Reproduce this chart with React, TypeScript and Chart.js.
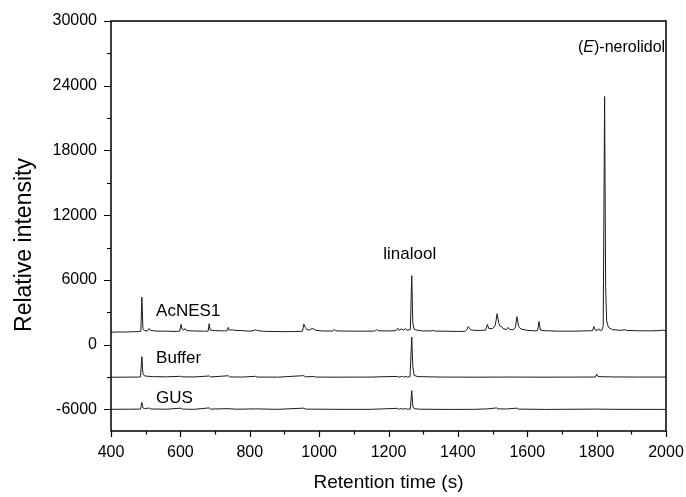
import React, { useEffect, useRef } from "react";
import { Chart, registerables } from "chart.js";

Chart.register(...registerables);

// Retention time (s) and relative intensity for each sample trace.
const acnes1Rt = [
  400, 420, 440, 460, 480, 486, 489, 492, 496, 505, 510, 514, 530, 560, 590, 598, 602, 605, 610, 614,
  618, 640, 670, 680, 683, 686, 700, 730, 735, 738, 741, 750, 760, 780, 800, 812, 817, 822, 840, 870,
  900, 930, 952, 956, 960, 964, 972, 980, 985, 990, 1010, 1040, 1044, 1048, 1080, 1120, 1160, 1166, 1170, 1200,
  1222, 1227, 1231, 1238, 1242, 1249, 1253, 1263, 1267, 1270, 1274, 1285, 1300, 1325, 1329, 1333, 1360, 1380, 1400, 1420,
  1425, 1430, 1436, 1445, 1465, 1480, 1485, 1489, 1500, 1508, 1513, 1518, 1522, 1526, 1530, 1540, 1545, 1550, 1560, 1566,
  1570, 1575, 1582, 1600, 1620, 1630, 1634, 1638, 1650, 1680, 1720, 1760, 1788, 1792, 1796, 1802, 1806, 1809, 1815, 1819,
  1823, 1826, 1829, 1834, 1845, 1870, 1882, 1886, 1920, 1950, 1980, 1990, 2000,
];
const acnes1Intensity = [
  1150, 1180, 1170, 1200, 1210, 1230, 4400, 1500, 1300, 1280, 1500, 1330, 1260, 1250, 1230, 1260, 1880, 1450, 1350, 1500,
  1300, 1270, 1250, 1260, 1950, 1350, 1300, 1280, 1300, 1600, 1350, 1370, 1320, 1300, 1250, 1320, 1380, 1300, 1240, 1220,
  1210, 1220, 1250, 1900, 1600, 1400, 1360, 1500, 1450, 1330, 1270, 1260, 1420, 1280, 1260, 1250, 1260, 1400, 1290, 1270,
  1300, 1520, 1330, 1480, 1330, 1490, 1330, 1400, 6400, 2000, 1420, 1330, 1270, 1280, 1350, 1260, 1250, 1240, 1230, 1240,
  1350, 1680, 1400, 1330, 1320, 1350, 1880, 1500, 1480, 1800, 2870, 2000, 1700, 1680, 1500, 1400, 1600, 1400, 1380, 1600,
  2600, 1700, 1450, 1330, 1280, 1300, 2150, 1350, 1300, 1260, 1250, 1270, 1300, 1680, 1350, 1320, 1480, 1320, 1350, 1700,
  23000, 5300, 2200, 1600, 1400, 1330, 1380, 1320, 1290, 1280, 1300, 1350, 1280,
];

const bufferRt = [
  400, 440, 480, 485, 489, 492, 497, 520, 560, 600, 604, 640, 683, 687, 738, 742, 780, 817, 822, 880,
  956, 960, 985, 990, 1050, 1150, 1225, 1229, 1240, 1244, 1250, 1254, 1262, 1267, 1270, 1274, 1285, 1350, 1450, 1550,
  1650, 1760, 1796, 1800, 1804, 1850, 1920, 2000,
];
const bufferIntensity = [
  -3020, -3010, -3000, -2980, -1100, -2700, -2900, -2960, -2980, -2930, -2980, -2990, -2900, -2990, -2880, -2990, -3000, -2930, -3000, -3010,
  -2870, -2980, -2950, -3000, -3010, -3000, -2940, -3000, -2950, -3000, -2930, -3000, -2980, 700, -2000, -2850, -2960, -3000, -3010, -3000,
  -3010, -3000, -3000, -2720, -2960, -2990, -3000, -3000,
];

const gusRt = [
  400, 450, 485, 489, 492, 497, 510, 515, 560, 602, 606, 640, 683, 687, 738, 760, 817, 880, 956, 960,
  1050, 1150, 1225, 1229, 1238, 1242, 1250, 1254, 1263, 1267, 1270, 1274, 1290, 1380, 1450, 1485, 1512, 1516, 1540, 1570,
  1574, 1650, 1800, 1850, 2000,
];
const gusIntensity = [
  -5990, -5980, -5970, -5350, -5850, -5930, -5870, -5960, -5980, -5880, -5970, -5990, -5860, -5970, -5930, -5980, -5950, -5990, -5880, -5970,
  -5990, -5990, -5900, -5980, -5910, -5980, -5920, -5980, -5960, -4260, -5700, -5930, -5980, -6000, -5990, -5950, -5860, -5950, -5960, -5880,
  -5970, -6000, -5970, -5990, -6000,
];

// Axis ticks: labelled majors and unlabelled minors.
const xMajorTicks = [400, 600, 800, 1000, 1200, 1400, 1600, 1800, 2000];
const xMinorTicks = [500, 700, 900, 1100, 1300, 1500, 1700, 1900];
const yMajorTicks = [-6000, 0, 6000, 12000, 18000, 24000, 30000];
const yMinorTicks = [-3000, 3000, 9000, 15000, 21000, 27000];

// Sample names placed beside each trace, and compound names above their peaks.
const sampleLabels = ["AcNES1", "Buffer", "GUS"];
const sampleLabelAnchors = [
  { x: 530, y: 3100 },
  { x: 530, y: -1250 },
  { x: 530, y: -4950 },
];
const linaloolPeak = { x: 1267, y: 6400 };
const nerolidolPeak = { x: 1823, y: 23000 };
const nerolidolLabelLevel = 27500;

const FONT = "'Liberation Sans', Arial, Helvetica, sans-serif";

function toPoints(xs: number[], ys: number[]) {
  return xs.map((x, i) => ({ x, y: ys[i] }));
}

const decorPlugin = {
  id: "decor",
  afterDraw(chart: any) {
    const { ctx, chartArea, scales } = chart;
    const xs = scales.x;
    const ys = scales.y;
    const { left, right, top, bottom } = chartArea;
    ctx.save();

    // frame
    ctx.strokeStyle = "#000";
    ctx.lineWidth = 1.5;
    ctx.strokeRect(left, top, right - left, bottom - top);

    // outward tick marks
    ctx.lineWidth = 1.2;
    ctx.beginPath();
    const tickX = (v: number, len: number) => {
      const px = Math.round(xs.getPixelForValue(v)) + 0.5;
      ctx.moveTo(px, bottom);
      ctx.lineTo(px, bottom + len);
    };
    const tickY = (v: number, len: number) => {
      const py = Math.round(ys.getPixelForValue(v)) + 0.5;
      ctx.moveTo(left, py);
      ctx.lineTo(left - len, py);
    };
    xMajorTicks.forEach((v) => tickX(v, 6));
    xMinorTicks.forEach((v) => tickX(v, 3.5));
    yMajorTicks.forEach((v) => tickY(v, 7));
    yMinorTicks.forEach((v) => tickY(v, 4));
    ctx.stroke();

    ctx.fillStyle = "#000";

    // axis titles
    ctx.font = `19px ${FONT}`;
    ctx.textAlign = "center";
    ctx.textBaseline = "middle";
    ctx.fillText("Retention time (s)", (left + right) / 2, 483);

    ctx.save();
    ctx.translate(25, 245);
    ctx.rotate(-Math.PI / 2);
    ctx.font = `23px ${FONT}`;
    ctx.fillText("Relative intensity", 0, 0);
    ctx.restore();

    // sample names
    ctx.font = `17px ${FONT}`;
    ctx.textAlign = "left";
    sampleLabels.forEach((name, i) => {
      const a = sampleLabelAnchors[i];
      ctx.fillText(name, xs.getPixelForValue(a.x), ys.getPixelForValue(a.y));
    });

    // compound names
    ctx.textAlign = "center";
    ctx.textBaseline = "bottom";
    ctx.fillText("linalool", xs.getPixelForValue(linaloolPeak.x) - 2, ys.getPixelForValue(linaloolPeak.y) - 13);

    const ny = ys.getPixelForValue(nerolidolLabelLevel);
    const parts = [
      { t: "(", italic: false },
      { t: "E", italic: true },
      { t: ")-nerolidol", italic: false },
    ];
    const fontFor = (it: boolean) => `${it ? "italic " : ""}16px ${FONT}`;
    let total = 0;
    parts.forEach((p) => {
      ctx.font = fontFor(p.italic);
      total += ctx.measureText(p.t).width;
    });
    let cx = xs.getPixelForValue(nerolidolPeak.x) + 17 - total / 2;
    ctx.textAlign = "left";
    ctx.textBaseline = "middle";
    parts.forEach((p) => {
      ctx.font = fontFor(p.italic);
      ctx.fillText(p.t, cx, ny);
      cx += ctx.measureText(p.t).width;
    });

    ctx.restore();
  },
};

export default function App() {
  const canvasRef = useRef<HTMLCanvasElement | null>(null);

  useEffect(() => {
    document.body.style.margin = "0";
    const canvas = canvasRef.current;
    if (!canvas) return;

    const traceStyle = {
      borderColor: "#1b1b1b",
      borderWidth: 1,
      pointRadius: 0,
      tension: 0,
      fill: false,
    };

    const chart = new Chart(canvas, {
      type: "line",
      data: {
        datasets: [
          { label: "AcNES1", data: toPoints(acnes1Rt, acnes1Intensity), ...traceStyle },
          { label: "Buffer", data: toPoints(bufferRt, bufferIntensity), ...traceStyle },
          { label: "GUS", data: toPoints(gusRt, gusIntensity), ...traceStyle },
        ],
      },
      options: {
        animation: false,
        responsive: false,
        maintainAspectRatio: false,
        devicePixelRatio: 1,
        layout: { padding: { top: 21, right: 20, left: 0, bottom: 0 } },
        plugins: {
          legend: { display: false },
          tooltip: { enabled: false },
          title: { display: false },
        },
        scales: {
          x: {
            type: "linear",
            min: 400,
            max: 2000,
            afterFit: (scale: any) => {
              scale.height = 66;
              scale.paddingLeft = 0;
              scale.paddingRight = 0;
            },
            afterBuildTicks: (scale: any) => {
              scale.ticks = xMajorTicks.map((v) => ({ value: v }));
            },
            border: { display: false },
            grid: {
              display: true,
              drawOnChartArea: false,
              drawTicks: true,
              tickLength: 7,
              color: "rgba(0,0,0,0)",
            },
            ticks: {
              color: "#000",
              font: { family: FONT, size: 16 },
              padding: 5,
              maxRotation: 0,
              autoSkip: false,
              callback: (v: any) => String(v),
            },
          },
          y: {
            type: "linear",
            min: -8000,
            max: 30000,
            afterFit: (scale: any) => {
              scale.width = 111;
              scale.paddingTop = 0;
              scale.paddingBottom = 0;
            },
            afterBuildTicks: (scale: any) => {
              scale.ticks = yMajorTicks.map((v) => ({ value: v }));
            },
            border: { display: false },
            grid: {
              display: true,
              drawOnChartArea: false,
              drawTicks: true,
              tickLength: 7,
              color: "rgba(0,0,0,0)",
            },
            ticks: {
              color: "#000",
              font: { family: FONT, size: 16 },
              padding: 7,
              autoSkip: false,
              callback: (v: any) => String(v),
            },
          },
        },
      },
      plugins: [decorPlugin],
    });

    return () => chart.destroy();
  }, []);

  return (
    <div style={{ position: "absolute", left: 0, top: 0, width: 686, height: 497, background: "#fff" }}>
      <canvas ref={canvasRef} width={686} height={497} />
    </div>
  );
}
